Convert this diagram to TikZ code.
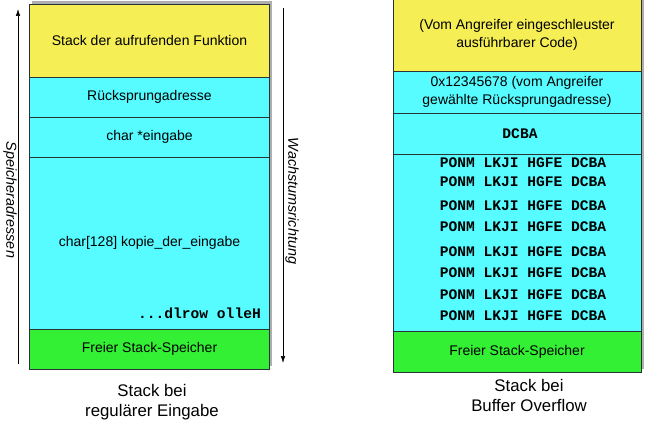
\documentclass[tikz,border=0pt]{standalone}
\usepackage{fontspec}
\setmainfont{Liberation Sans}
\setmonofont{Liberation Mono}
\usetikzlibrary{shadows,arrows.meta}
\definecolor{stackyellow}{RGB}{246,238,85}
\definecolor{stackcyan}{RGB}{86,252,255}
\definecolor{stackgreen}{RGB}{52,240,52}
\definecolor{edge}{RGB}{40,50,55}
\begin{document}
\begin{tikzpicture}[x=1pt,y=-1pt,
  cell/.style={draw=edge, line width=0.8pt, rectangle, inner sep=0pt, outer sep=0pt, font=\fontsize{14}{17.5}\selectfont, align=center},
  frame/.style={draw=edge, line width=0.8pt, fill=white, drop shadow={shadow xshift=2.5pt, shadow yshift=3pt, opacity=0.45, fill=black!70}},
  code/.style={font=\ttfamily\bfseries\fontsize{14.6}{16}\selectfont, inner sep=0pt},
  caption/.style={font=\fontsize{16.8}{20}\selectfont, align=center},
  axis/.style={line width=0.6pt, -{Latex[length=7pt,width=4.5pt]}},
  axislabel/.style={font=\itshape\fontsize{14.4}{17}\selectfont, rotate=-90}]
\useasboundingbox (0,0) rectangle (658,438);

% --- stack during regular input ---
\path[frame] (29.5,4) rectangle (269.5,369);
\node[cell, fill=stackyellow, minimum width=240pt, minimum height=73pt] (lcaller) at (149.5,40.5) {Stack der aufrufenden Funktion};
\node[cell, fill=stackcyan, minimum width=240pt, minimum height=40pt] (lret) at (149.5,97) {Rücksprungadresse};
\node[cell, fill=stackcyan, minimum width=240pt, minimum height=40pt] (lptr) at (149.5,137) {char *eingabe};
\node[cell, fill=stackcyan, minimum width=240pt, minimum height=172pt] (lbuf) at (149.5,243) {char[128] kopie\_der\_eingabe};
\node[code, anchor=east] (lhello) at (261,313) {...dlrow olleH};
\node[cell, fill=stackgreen, minimum width=240pt, minimum height=40pt] (lfree) at (149.5,349) {Freier Stack-Speicher};
\node[caption] (lcap) at (152,402) {Stack bei\\regulärer Eingabe};

% address axis (up) and growth axis (down)
\coordinate (addrlow) at (18,364);
\coordinate (addrhigh) at (18,9);
\draw[axis] (addrlow) -- (addrhigh);
\node[axislabel] (addrlabel) at (10,200) {Speicheradressen};
\coordinate (growtop) at (283,8);
\coordinate (growbottom) at (283,363);
\draw[axis] (growtop) -- (growbottom);
\node[axislabel] (growlabel) at (292,201) {Wachstumsrichtung};

% --- stack during buffer overflow ---
\path[frame] (393,-1) rectangle (641,372);
\node[cell, fill=stackyellow, minimum width=248pt, minimum height=72pt] (rcode) at (517,35) {(Vom Angreifer eingeschleuster\\ausführbarer Code)};
\node[cell, fill=stackcyan, minimum width=248pt, minimum height=42pt] (rret) at (517,92) {0x12345678 (vom Angreifer\\gewählte Rücksprungadresse)};
\node[cell, fill=stackcyan, minimum width=248pt, minimum height=41pt] (rptr) at (517,133.5) {};
\node[code] (rdcba) at (520,134) {DCBA};
\node[cell, fill=stackcyan, minimum width=248pt, minimum height=177pt] (rbuf) at (517,242.5) {};
\foreach \y [count=\i] in {163,182,206,227,252,273,295,316}
  \node[code] (rrow\i) at (523,\y) {PONM LKJI HGFE DCBA};
\node[cell, fill=stackgreen, minimum width=248pt, minimum height=41pt] (rfree) at (517,351.5) {Freier Stack-Speicher};
\node[caption] (rcap) at (529,395) {Stack bei\\Buffer Overflow};
\end{tikzpicture}
\end{document}
